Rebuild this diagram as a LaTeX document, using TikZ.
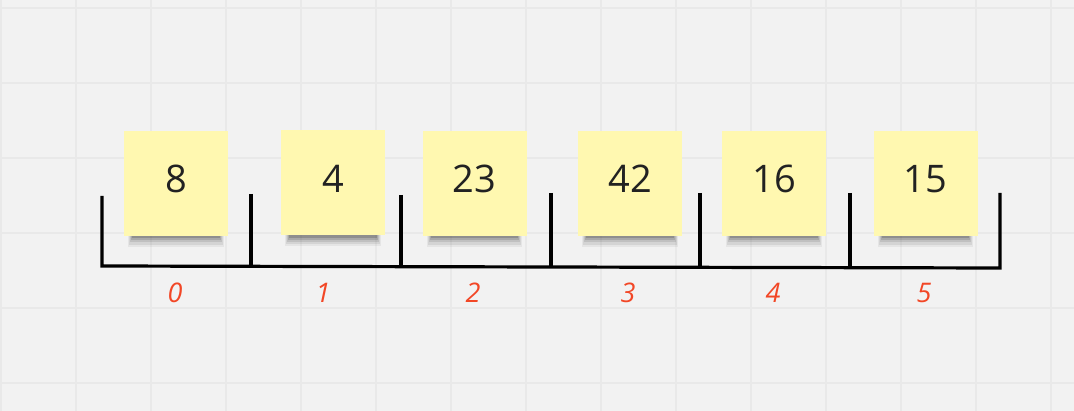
\documentclass[tikz,border=0pt]{standalone}
\usepackage{fontspec}
\setmainfont{Open Sans}
\usetikzlibrary{shadows}
\definecolor{paper}{HTML}{F2F2F2}
\definecolor{gridline}{HTML}{E9E9E9}
\definecolor{sticky}{HTML}{FFF8B0}
\definecolor{ink}{HTML}{222222}
\definecolor{idx}{HTML}{F24726}
\tikzset{
    note/.style={fill=sticky, inner sep=0pt, minimum width=104pt, minimum height=105pt,
        text=ink, font=\fontsize{38}{40}\selectfont, text depth=9pt,
        general shadow={fill=black, opacity=0.05, shadow scale=0.92, shadow yshift=-16.2pt},
        general shadow={fill=black, opacity=0.07, shadow scale=0.90, shadow yshift=-15.3pt},
        general shadow={fill=black, opacity=0.09, shadow scale=0.88, shadow yshift=-14.3pt},
        general shadow={fill=black, opacity=0.12, shadow scale=0.86, shadow yshift=-13.4pt},
        general shadow={fill=black, opacity=0.15, shadow scale=0.84, shadow yshift=-12.4pt},
        general shadow={fill=black, opacity=0.18, shadow scale=0.80, shadow yshift=-12.5pt}},
    index/.style={text=idx, font=\fontsize{27}{30}\selectfont\itshape},
    bar/.style={line width=3.2pt, black}
}
\begin{document}
\begin{tikzpicture}[x=1pt,y=-1pt]
    \fill[paper] (0,0) rectangle (1074,411);
    \useasboundingbox (0,0) rectangle (1074,411);
    \foreach \gx in {1,76,...,1051}
        \draw[gridline, line width=1.2pt] (\gx,0) -- (\gx,411);
    \foreach \gy in {8,83,...,383}
        \draw[gridline, line width=1.2pt] (0,\gy) -- (1074,\gy);

    \draw[bar] (102,196) -- (102,266) -- (1000,268) -- (1000,193);
    \draw[bar] (251,194) -- (251,266.3);
    \draw[bar] (401,195) -- (401,266.7);
    \draw[bar] (551,193) -- (551,267);
    \draw[bar] (700,193) -- (700,267.3);
    \draw[bar] (850,193) -- (850,267.7);

    \node[note] (n0) at (176,183.5) {8};
    \node[note] (n1) at (333,183) {4};
    \node[note] (n2) at (474.5,183.5) {23};
    \node[note] (n3) at (630,183.5) {42};
    \node[note] (n4) at (774,183.5) {16};
    \node[note] (n5) at (925.5,183.5) {15};

    \node[index] (i0) at (175,293) {0};
    \node[index] (i1) at (323,293) {1};
    \node[index] (i2) at (473,293) {2};
    \node[index] (i3) at (628,293) {3};
    \node[index] (i4) at (773,293) {4};
    \node[index] (i5) at (924,293) {5};
\end{tikzpicture}
\end{document}
